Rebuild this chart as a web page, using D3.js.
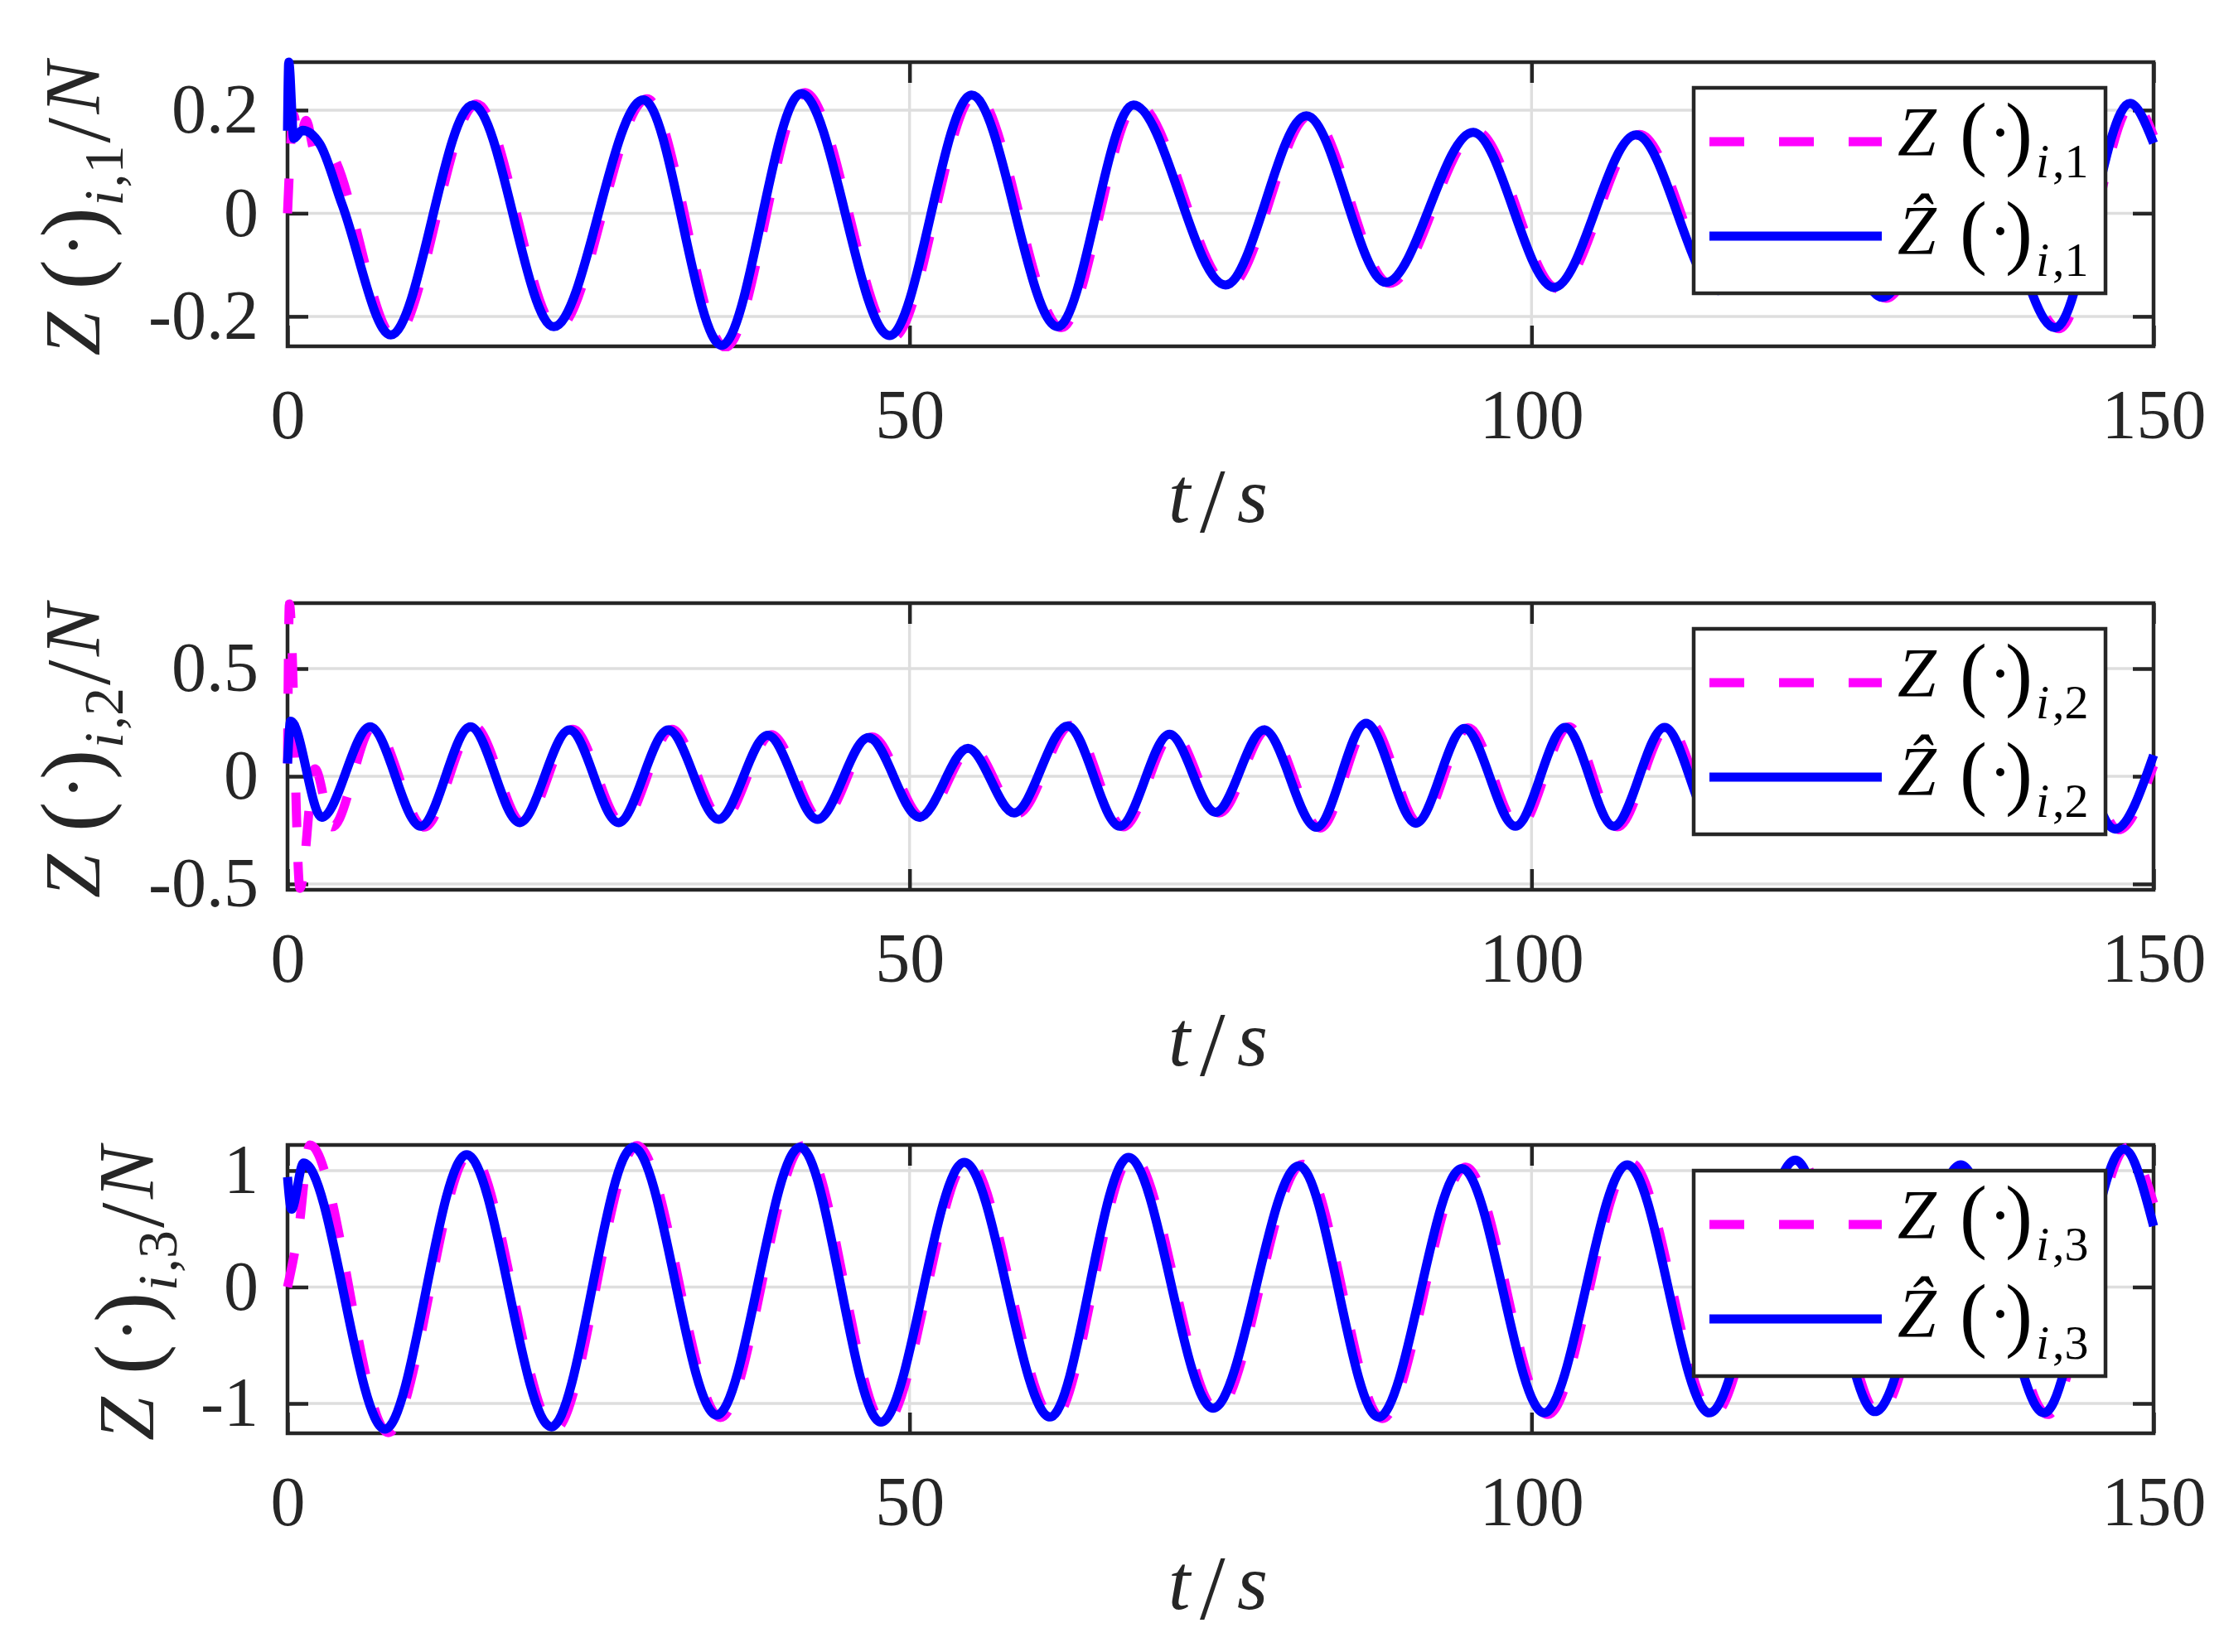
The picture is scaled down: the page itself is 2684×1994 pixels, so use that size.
<!DOCTYPE html>
<html lang="en">
<head>
  <meta charset="UTF-8">
  <title>Z estimation vs time</title>
  <script src="https://d3js.org/d3.v7.min.js"></script>
  <style>
    body {
      margin: 0;
      background: #fff;
    }
    svg {
      display: block;
    }
    .math {
      font-family: "Liberation Serif", "Times New Roman", serif;
    }
  </style>
</head>
<body>
  <svg width="2684" height="1994"></svg>

  <script>
    // x axis (time, s)
    const timeTicks = [0, 50, 100, 150];
    const timeDomain = [0, 150];

    // y ticks for the three panels
    const yTicks1 = [-0.2, 0, 0.2];
    const yTicks2 = [-0.5, 0, 0.5];
    const yTicks3 = [-1, 0, 1];

    // panel 1 : Z(.)_{i,1} (dashed magenta) and its estimate (blue), [t, value]
    const zTrue1 = [[0, 0], [0.5, 0.19], [0.9, 0.14], [1.5, 0.18], [2.2, 0.12], [3.0, 0.125],
      [8.6, -0.24], [15.2, 0.212], [21.7, -0.223], [28.9, 0.222], [35.2, -0.26], [41.6, 0.234],
      [48.7, -0.24], [55.3, 0.231], [62.2, -0.222], [68.3, 0.212], [75.7, -0.141], [82.2, 0.19],
      [88.6, -0.136], [95.6, 0.158], [102.1, -0.146], [108.7, 0.153], [115.3, -0.152], [121.9, 0.161],
      [128.5, -0.165], [135.3, 0.171], [142.4, -0.224], [148.4, 0.214], [150, 0.15]];
    const zEst1 = [[0, 0.16], [0.1, 0.293], [0.5, 0.145], [1.2, 0.161], [2.6, 0.134], [4.4, 0.016],
      [8.3, -0.236], [14.9, 0.21], [21.4, -0.22], [28.6, 0.22], [34.9, -0.256], [41.3, 0.232],
      [48.4, -0.237], [55.0, 0.229], [61.9, -0.22], [68.0, 0.21], [75.4, -0.139], [81.9, 0.189],
      [88.3, -0.134], [95.3, 0.157], [101.8, -0.144], [108.4, 0.152], [115.0, -0.15], [121.6, 0.16],
      [128.2, -0.163], [135.0, 0.17], [142.1, -0.222], [148.1, 0.213], [150, 0.136]];

    // panel 2
    const zTrue2 = [[0, 0.06], [0.15, 0.8], [1.0, -0.52], [2.2, 0.035], [3.6, -0.235], [6.9, 0.232],
      [11.0, -0.236], [15.0, 0.232], [18.95, -0.218], [22.95, 0.218], [26.9, -0.218], [30.9, 0.218],
      [34.95, -0.203], [38.9, 0.193], [42.9, -0.203], [47.0, 0.183], [51.1, -0.193], [55.0, 0.133],
      [58.7, -0.173], [63.0, 0.237], [67.2, -0.235], [71.2, 0.198], [74.9, -0.17], [78.8, 0.218],
      [83.0, -0.24], [87.0, 0.249], [91.0, -0.221], [94.9, 0.225], [99.0, -0.235], [103.0, 0.23],
      [106.9, -0.235], [111.0, 0.23], [115.0, -0.232], [119.0, 0.222], [123.0, -0.222], [127.0, 0.222],
      [131.0, -0.222], [135.1, 0.222], [139.1, -0.222], [143.1, 0.222], [147.2, -0.248], [150, 0.05]];
    const zEst2 = [[0, 0.06], [0.25, 0.256], [2.75, -0.19], [6.64, 0.23], [10.7, -0.232], [14.7, 0.23],
      [18.66, -0.215], [22.66, 0.215], [26.6, -0.215], [30.6, 0.215], [34.65, -0.2], [38.6, 0.19],
      [42.6, -0.2], [46.7, 0.18], [50.8, -0.19], [54.7, 0.13], [58.4, -0.17], [62.7, 0.234],
      [66.9, -0.232], [70.9, 0.195], [74.6, -0.167], [78.5, 0.215], [82.7, -0.237], [86.7, 0.246],
      [90.7, -0.218], [94.6, 0.222], [98.7, -0.232], [102.7, 0.227], [106.6, -0.232], [110.7, 0.227],
      [114.7, -0.23], [118.7, 0.22], [122.7, -0.22], [126.7, 0.22], [130.7, -0.22], [134.8, 0.22],
      [138.8, -0.22], [142.8, 0.22], [146.9, -0.245], [150, 0.098]];

    // panel 3
    const zTrue3 = [[0, 0], [0.9, 0.5], [1.8, 1.22], [8.1, -1.25], [14.7, 1.15], [21.5, -1.22],
      [28.1, 1.215], [34.8, -1.12], [41.5, 1.215], [48.0, -1.175], [54.7, 1.085], [61.6, -1.13],
      [67.9, 1.125], [74.7, -1.055], [81.6, 1.055], [88.0, -1.13], [94.7, 1.03], [101.3, -1.095],
      [108.0, 1.065], [114.6, -1.095], [121.5, 1.105], [127.9, -1.085], [134.8, 1.065], [141.5, -1.095],
      [147.9, 1.2], [150, 0.72]];
    const zEst3 = [[0, 0.944], [0.32, 0.668], [1.29, 1.065], [7.83, -1.22], [14.4, 1.137], [21.2, -1.2],
      [27.8, 1.2], [34.5, -1.1], [41.2, 1.2], [47.7, -1.16], [54.4, 1.07], [61.3, -1.116],
      [67.6, 1.113], [74.4, -1.04], [81.3, 1.04], [87.7, -1.116], [94.4, 1.017], [101.0, -1.08],
      [107.7, 1.05], [114.3, -1.08], [121.2, 1.09], [127.6, -1.07], [134.5, 1.05], [141.2, -1.08],
      [147.6, 1.185], [150, 0.523]];

    const svg = d3.select("svg");
    const ink = "#262626";
    const left = 347, right = 2599;
    const xScale = d3.scaleLinear().domain(timeDomain).range([left, right]);

    const panels = [
      {top: 75, bottom: 418, domain: [-0.258, 0.293], ticks: yTicks1, zTrue: zTrue1, zEst: zEst1, sub: "1", labelX: 120},
      {top: 728, bottom: 1074, domain: [-0.527, 0.804], ticks: yTicks2, zTrue: zTrue2, zEst: zEst2, sub: "2", labelX: 120},
      {top: 1382, bottom: 1730, domain: [-1.256, 1.22], ticks: yTicks3, zTrue: zTrue3, zEst: zEst3, sub: "3", labelX: 185}
    ];

    // one <text> made of absolutely placed tspans (latex-ish formula)
    function formula(g, parts, color) {
      const t = g.append("text").attr("class", "math").style("fill", color || ink);
      parts.forEach(p => {
        t.append("tspan")
          .attr("x", p.x)
          .attr("y", p.y)
          .style("font-size", p.size + "px")
          .style("font-style", p.italic ? "italic" : "normal")
          .text(p.t);
      });
      return t;
    }

    function styleAxis(g) {
      g.select(".domain").remove();
      g.selectAll(".tick line").attr("stroke", ink).attr("stroke-width", 4.5);
      g.selectAll(".tick text")
        .attr("class", "math")
        .attr("fill", ink)
        .style("font-size", "84px");
    }

    panels.forEach((p, i) => {
      const yScale = d3.scaleLinear().domain(p.domain).range([p.bottom, p.top]);
      const g = svg.append("g").attr("class", "panel");

      // grid
      g.append("g").selectAll("line")
        .data(timeTicks.slice(1, -1))
        .join("line")
        .attr("x1", d => xScale(d)).attr("x2", d => xScale(d))
        .attr("y1", p.top).attr("y2", p.bottom)
        .attr("stroke", "#dedede").attr("stroke-width", 3.5);
      g.append("g").selectAll("line")
        .data(p.ticks)
        .join("line")
        .attr("x1", left).attr("x2", right)
        .attr("y1", d => yScale(d)).attr("y2", d => yScale(d))
        .attr("stroke", "#dedede").attr("stroke-width", 3.5);

      // box
      g.append("rect")
        .attr("x", left).attr("y", p.top)
        .attr("width", right - left).attr("height", p.bottom - p.top)
        .attr("fill", "none").attr("stroke", ink).attr("stroke-width", 4.5);

      // ticks (inside) on all four sides, labels bottom / left
      g.append("g")
        .attr("transform", `translate(0,${p.bottom})`)
        .call(d3.axisBottom(xScale).tickValues(timeTicks).tickSize(-25).tickPadding(51).tickFormat(d3.format("d")))
        .call(styleAxis);
      g.append("g")
        .attr("transform", `translate(0,${p.top})`)
        .call(d3.axisTop(xScale).tickValues(timeTicks).tickSize(-25).tickFormat(""))
        .call(styleAxis);
      g.append("g")
        .attr("transform", `translate(${left},0)`)
        .call(d3.axisLeft(yScale).tickValues(p.ticks).tickSize(-25).tickPadding(35).tickFormat(d => String(d)))
        .call(styleAxis);
      g.append("g")
        .attr("transform", `translate(${right},0)`)
        .call(d3.axisRight(yScale).tickValues(p.ticks).tickSize(-25).tickFormat(""))
        .call(styleAxis);

      // data
      const clipId = "clip" + i;
      svg.append("clipPath").attr("id", clipId)
        .append("rect")
        .attr("x", left - 6).attr("y", p.top - 6)
        .attr("width", right - left + 12).attr("height", p.bottom - p.top + 12);

      const line = d3.line()
        .x(d => xScale(d[0]))
        .y(d => yScale(d[1]))
        .curve(d3.curveMonotoneX);

      const plot = g.append("g").attr("clip-path", `url(#${clipId})`);
      plot.append("path")
        .datum(p.zTrue)
        .attr("d", line)
        .attr("fill", "none")
        .attr("stroke", "#ff00ff")
        .attr("stroke-width", 11)
        .attr("stroke-dasharray", "42,42")
        .attr("stroke-linejoin", "round");
      plot.append("path")
        .datum(p.zEst)
        .attr("d", line)
        .attr("fill", "none")
        .attr("stroke", "#0000ff")
        .attr("stroke-width", 11)
        .attr("stroke-linejoin", "round");

      // x label  t/s
      const xl = g.append("g").attr("transform", `translate(${(left + right) / 2},${p.bottom + 212})`);
      formula(xl, [
        {t: "t", x: -63, y: 0, size: 95, italic: true},
        {t: "/", x: -25, y: 12, size: 110},
        {t: "s", x: 20, y: 0, size: 95, italic: true}
      ]);

      // y label  Z(.)_{i,k}/N
      const yl = g.append("g")
        .attr("transform", `translate(${p.labelX},${(p.top + p.bottom) / 2 - 4}) rotate(-90)`);
      const s = -187;
      formula(yl, [
        {t: "Z", x: s, y: 0, size: 95, italic: true},
        {t: "(", x: s + 80, y: 4, size: 109},
        {t: "\u00b7", x: s + 118, y: 0, size: 95},
        {t: ")", x: s + 143, y: 4, size: 109},
        {t: "i", x: s + 181, y: 28, size: 68, italic: true},
        {t: "," + p.sub, x: s + 203, y: 28, size: 68},
        {t: "/", x: s + 257, y: 12, size: 110},
        {t: "N", x: s + 292, y: 0, size: 95, italic: true}
      ]);

      // legend
      const lg = g.append("g").attr("transform", `translate(2044,${p.top + 31})`);
      lg.append("rect")
        .attr("width", 497).attr("height", 248)
        .attr("fill", "#fff").attr("stroke", ink).attr("stroke-width", 4.5);
      lg.append("line")
        .attr("x1", 19).attr("x2", 227).attr("y1", 65).attr("y2", 65)
        .attr("stroke", "#ff00ff").attr("stroke-width", 11).attr("stroke-dasharray", "42,42");
      lg.append("line")
        .attr("x1", 19).attr("x2", 227).attr("y1", 179).attr("y2", 179)
        .attr("stroke", "#0000ff").attr("stroke-width", 11);
      [82, 201].forEach((b, k) => {
        formula(lg, [
          {t: k === 0 ? "Z" : "\u1e90", x: 246, y: b, size: 84, italic: true},
          {t: "(", x: 321, y: b + 5, size: 99},
          {t: "\u00b7", x: 356, y: b, size: 84},
          {t: ")", x: 376, y: b + 5, size: 99},
          {t: "i", x: 413, y: b + 26, size: 58, italic: true},
          {t: "," + p.sub, x: 433, y: b + 26, size: 58}
        ], "#000");
      });
    });
  </script>
</body>
</html>
